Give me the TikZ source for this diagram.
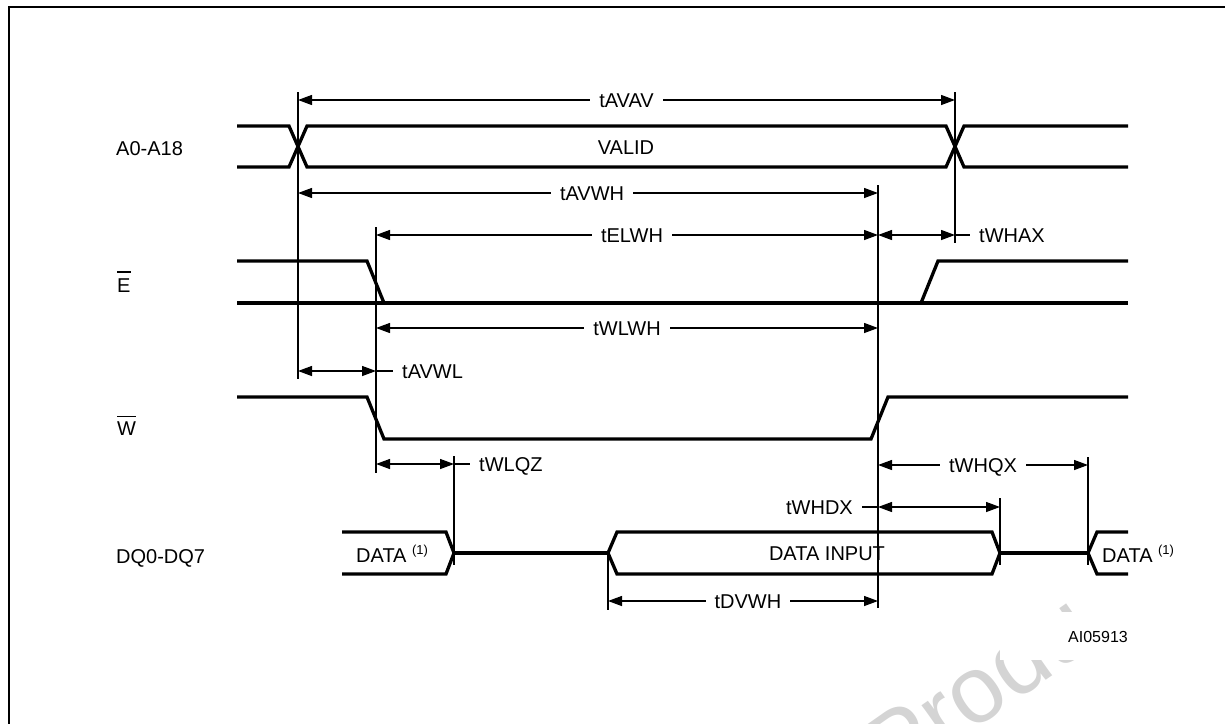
\documentclass[tikz,border=0pt]{standalone}
\usepackage{fontspec}
\setmainfont{Liberation Sans}
\usetikzlibrary{arrows.meta}
\newcommand{\barred}[2][19pt]{\setbox0\hbox{#2}\makebox[0pt][l]{\rule[#1]{\wd0}{1.5pt}}#2}
\begin{document}
\begin{tikzpicture}[x=1pt,y=-1pt,
  sig/.style={line width=3.3pt},
  thinln/.style={line width=1.3pt},
  dim/.style={line width=1.3pt,{Triangle[length=14pt,width=10pt]}-{Triangle[length=14pt,width=10pt]}},
  lbl/.style={font=\fontsize{20}{24}\selectfont, fill=white, inner xsep=9pt, inner ysep=1pt, text height=14pt, text depth=0pt},
  sname/.style={font=\fontsize{20}{24}\selectfont, anchor=base west, inner sep=0pt}]
\useasboundingbox (0,0) rectangle (1225,723);
\clip (0,0) rectangle (1225,723);
% watermark
\node[rotate=35, text=black!17, font=\fontsize{95}{95}\selectfont, anchor=base west, inner sep=0pt] (wm) at (893,787) {Produ};
% frame
\draw[line width=2.3pt] (9,740) -- (9,6.7) -- (1240,6.7);
% verticals
\coordinate (v1t) at (298,92);   \coordinate (v1b) at (298,379);
\coordinate (v2t) at (955,92);   \coordinate (v2b) at (955,243);
\coordinate (v3t) at (878,185);  \coordinate (v3b) at (878,608);
\coordinate (v4t) at (376,227);  \coordinate (v4b) at (376,473);
\coordinate (v5t) at (454,456);  \coordinate (v5b) at (454,565);
\coordinate (v6t) at (1000,498); \coordinate (v6b) at (1000,565);
\coordinate (v7t) at (1088,457); \coordinate (v7b) at (1088,565);
\coordinate (v8t) at (608,553);  \coordinate (v8b) at (608,610);
\foreach \v in {1,...,8} \draw[thinln] (v\v t) -- (v\v b);
% rows
\coordinate (rAVAV) at (0,100);
\coordinate (rAVWH) at (0,193);
\coordinate (rELWH) at (0,235);
\coordinate (rWLWH) at (0,328);
\coordinate (rAVWL) at (0,371);
\coordinate (rWLQZ) at (0,464);
\coordinate (rWHQX) at (0,465);
\coordinate (rWHDX) at (0,507);
\coordinate (rDVWH) at (0,601);
% signals
\draw[sig] (237,126) -- (289,126) -- (307,167) -- (946,167) -- (964,126) -- (1128,126);
\draw[sig] (237,167) -- (289,167) -- (307,126) -- (946,126) -- (964,167) -- (1128,167);
\draw[sig] (237,261) -- (367,261) -- (384,303);
\draw[sig] (237,303) -- (1128,303);
\draw[sig] (921,303) -- (938,261) -- (1128,261);
\draw[sig] (237,397) -- (367,397) -- (384,439) -- (871,439) -- (888,397) -- (1128,397);
\draw[sig] (342,532) -- (446,532) -- (454,553) -- (446,574) -- (342,574);
\draw[sig] (454,553) -- (608,553);
\draw[sig] (608,553) -- (617,532) -- (992,532) -- (1000,553) -- (992,574) -- (617,574) -- cycle;
\draw[sig] (1000,553) -- (1088,553);
\draw[sig] (1128,532) -- (1097,532) -- (1088,553) -- (1097,574) -- (1128,574);
% dimensions
\draw[dim] (v1t |- rAVAV) -- node[lbl] (lAVAV) {tAVAV} (v2t |- rAVAV);
\draw[dim] (v1t |- rAVWH) -- node[lbl,pos=0.507] (lAVWH) {tAVWH} (v3t |- rAVWH);
\draw[dim] (v4t |- rELWH) -- node[lbl,pos=0.51] (lELWH) {tELWH} (v3t |- rELWH);
\draw[dim] (v3t |- rELWH) -- (v2t |- rELWH);
\node[lbl,anchor=west] (lWHAX) at (970,235) {tWHAX};
\draw[thinln] (v2t |- rELWH) -- (lWHAX.west);
\draw[dim] (v4t |- rWLWH) -- node[lbl] (lWLWH) {tWLWH} (v3t |- rWLWH);
\draw[dim] (v1t |- rAVWL) -- (v4t |- rAVWL);
\node[lbl,anchor=west] (lAVWL) at (393,371) {tAVWL};
\draw[thinln] (v4t |- rAVWL) -- (lAVWL.west);
\draw[dim] (v4t |- rWLQZ) -- (v5t |- rWLQZ);
\node[lbl,anchor=west] (lWLQZ) at (470,464) {tWLQZ};
\draw[thinln] (v5t |- rWLQZ) -- (lWLQZ.west);
\draw[dim] (v3t |- rWHQX) -- node[lbl] (lWHQX) {tWHQX} (v7t |- rWHQX);
\draw[dim] (v3t |- rWHDX) -- (v6t |- rWHDX);
\node[lbl,anchor=east] (lWHDX) at (862,507) {tWHDX};
\draw[thinln] (lWHDX.east) -- (v3t |- rWHDX);
\draw[dim] (v8t |- rDVWH) -- node[lbl,pos=0.518] (lDVWH) {tDVWH} (v3t |- rDVWH);
% bus texts
\node[lbl,fill=none] (valid) at (626,147) {VALID};
\node[lbl,fill=none] (din) at (827,553) {DATA INPUT};
\node[sname] (dl) at (356,562) {DATA \raisebox{7.5pt}{\fontsize{13}{13}\selectfont(1)}};
\node[sname] (dr) at (1102,562) {DATA \raisebox{7.5pt}{\fontsize{13}{13}\selectfont(1)}};
% signal names
\node[sname] (nA) at (116,155) {A0-A18};
\node[sname] (nE) at (117,292) {\barred[19.2pt]{E}};
\node[sname] (nW) at (117,435) {\barred[17.6pt]{W}};
\node[sname] (nDQ) at (116,563) {DQ0-DQ7};
% code
\fill[white] (1000,612) rectangle (1150,660);
\node[font=\fontsize{16}{16}\selectfont, inner sep=0pt, anchor=base] (code) at (1098,642) {AI05913};
\end{tikzpicture}
\end{document}
